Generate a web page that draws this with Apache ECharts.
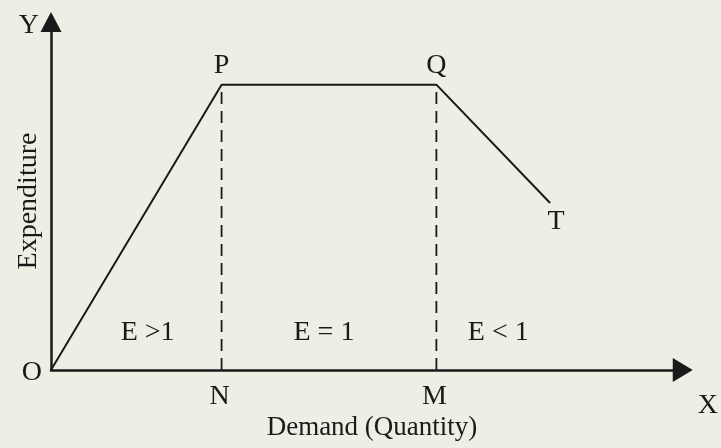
<!DOCTYPE html>
<html>
<head>
<meta charset="utf-8">
<script src="https://cdn.jsdelivr.net/npm/echarts@6/dist/echarts.min.js"></script>
<style>
html,body{margin:0;padding:0;background:#efeee4;}
#chart{width:721px;height:448px;}
</style>
</head>
<body>
<div id="chart"></div>
<script>
// Expenditure curve O-P-Q-T
var curveX = [0, 27, 61, 79];
var curveY = [0, 82, 82, 48];
var curveNames = ['O', 'P', 'Q', 'T'];
// Vertical dashed drop lines
var dropX = [27, 61];
var dropTop = [82, 82];
var dropNames = ['N', 'M'];
// Elasticity region labels
var regionLabels = ['E >1', 'E = 1', 'E < 1'];
var regionX = [15.3, 43.2, 70.8];
var regionY = [11.2, 11.2, 11.2];
// Axis names
var xName = 'X', yName = 'Y';
var xTitle = 'Demand (Quantity)', yTitle = 'Expenditure';

var FONT = 'Liberation Serif';
var INK = '#1a1a1a';
var fs = 28;

var chart = echarts.init(document.getElementById('chart'), null, {renderer: 'canvas'});

var labelPos = {
  O: {position: 'left', distance: 9, offset: [0, 3]},
  P: {position: 'top', distance: 5, offset: [0, 0]},
  Q: {position: 'top', distance: 5, offset: [0, 0]},
  T: {position: 'bottom', distance: 0, offset: [6, 5]}
};
var curveData = curveX.map(function (x, i) {
  var n = curveNames[i];
  var lp = labelPos[n];
  return {
    value: [x, curveY[i]], name: n,
    label: {show: true, position: lp.position, distance: lp.distance, offset: lp.offset, formatter: n}
  };
});

var series = [{
  type: 'line', data: curveData, symbol: 'circle', symbolSize: 0, showSymbol: true, silent: true,
  itemStyle: {color: INK, opacity: 1},
  lineStyle: {color: INK, width: 2},
  label: {color: INK, fontFamily: FONT, fontSize: fs},
  z: 5
}];
dropX.forEach(function (x, i) {
  series.push({
    type: 'line', symbol: 'circle', symbolSize: 0, showSymbol: true, silent: true,
    itemStyle: {color: INK, opacity: 1},
    data: [
      {value: [x, 0], label: {show: true, position: 'bottom', distance: 13, offset: [-2, 0], formatter: dropNames[i]}},
      {value: [x, dropTop[i]]}
    ],
    lineStyle: {color: INK, width: 1.8, type: [12, 7]},
    label: {color: INK, fontFamily: FONT, fontSize: fs}
  });
});
series.push({
  type: 'scatter', symbolSize: 0, silent: true,
  itemStyle: {color: INK, opacity: 1},
  data: regionX.map(function (x, i) { return {value: [x, regionY[i]], name: regionLabels[i]}; }),
  label: {show: true, position: 'inside', offset: [0, 2], formatter: '{b}', color: INK, opacity: 1, fontFamily: FONT, fontSize: fs}
});

chart.setOption({
  backgroundColor: '#efeee4',
  animation: false,
  grid: {left: 51, right: 36, top: 22, bottom: 78, containLabel: false},
  xAxis: {
    type: 'value', min: 0, max: 100,
    name: xName, nameLocation: 'end', nameGap: 15,
    nameTextStyle: {color: INK, fontFamily: FONT, fontSize: fs, verticalAlign: 'top', align: 'left', padding: [22, 0, 0, 0]},
    axisLine: {show: true, onZero: false, symbol: ['none', 'triangle'], symbolSize: [24, 20], lineStyle: {color: INK, width: 2.5}},
    axisTick: {show: false}, axisLabel: {show: false}, splitLine: {show: false}
  },
  yAxis: {
    type: 'value', min: 0, max: 100,
    name: yName, nameLocation: 'end', nameGap: -4,
    nameTextStyle: {color: INK, fontFamily: FONT, fontSize: fs, verticalAlign: 'middle', align: 'right', padding: [0, 12, 0, 0]},
    axisLine: {show: true, onZero: false, symbol: ['none', 'triangle'], symbolSize: [21, 20], lineStyle: {color: INK, width: 2.5}},
    axisTick: {show: false}, axisLabel: {show: false}, splitLine: {show: false}
  },
  graphic: [
    {type: 'text', x: 372, y: 428, style: {text: xTitle, fill: INK, font: '27px "' + FONT + '"', textAlign: 'center', textVerticalAlign: 'middle'}},
    {type: 'text', x: 29, y: 201, rotation: Math.PI / 2, style: {text: yTitle, fill: INK, font: '28px "' + FONT + '"', textAlign: 'center', textVerticalAlign: 'middle'}}
  ],
  series: series
});
</script>
</body>
</html>
